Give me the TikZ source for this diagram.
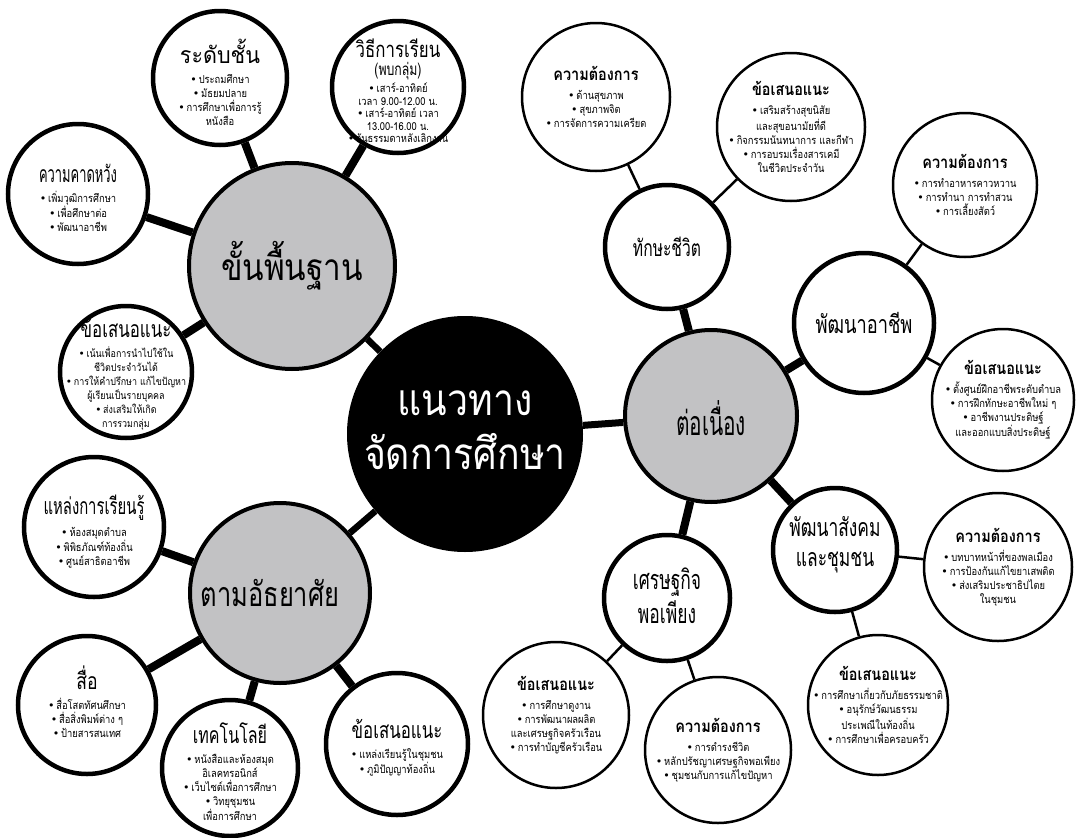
\documentclass[tikz,border=0pt]{standalone}
\usepackage{fontspec}
\usepackage{graphicx}
\newfontfamily\thf[Script=Thai,FakeStretch=0.85]{Loma}
\newfontfamily\bulf{DejaVu Sans}
\newcommand\bu{{\bulf •}\,}
\newcommand\hs[2]{\scalebox{#1}[1]{#2}}
\definecolor{bubgray}{RGB}{194,194,196}
\tikzset{
  leafthick/.style={circle,draw,line width=4.5pt,fill=white,inner sep=0pt},
  leafthin/.style={circle,draw,line width=2.5pt,fill=white,inner sep=0pt},
  midnode/.style={circle,draw,line width=4pt,fill=bubgray,inner sep=0pt},
  corenode/.style={circle,fill=black,inner sep=0pt},
  lk/.style={line width=8pt},
  lkthin/.style={line width=2.5pt},
  txt/.style={align=center,inner sep=0pt,font=\thf\fontsize{11}{14}\selectfont},
  big/.style={align=center,inner sep=0pt},
}
\newcommand\tl[2]{{\fontsize{23}{26}\selectfont\hs{#1}{#2}}\\[6pt]}
\newcommand\tb[1]{{\bfseries\fontsize{17}{21}\selectfont #1}\\[5pt]}
\begin{document}
\begin{tikzpicture}[x=1pt,y=-1pt]
\useasboundingbox (0,0) rectangle (1077,838);
% core and main branches
\node[corenode,minimum size=236pt] (core) at (465,434) {};
\node[midnode,minimum size=206pt] (basic) at (292,266) {};
\node[midnode,minimum size=172pt] (cont) at (711,416) {};
\node[midnode,minimum size=180pt] (info) at (280,593) {};
% left leaves
\node[leafthick,minimum size=134pt] (level) at (220,78) {};
\node[leafthick,minimum size=132pt] (method) at (398,87) {};
\node[leafthick,minimum size=140pt] (expect) at (78,194) {};
\node[leafthick,minimum size=132pt] (sugA) at (126,372) {};
\node[leafthick,minimum size=140pt] (source) at (94,527) {};
\node[leafthick,minimum size=138pt] (media) at (87,705) {};
\node[leafthick,minimum size=136pt] (tech) at (230,768) {};
\node[leafthick,minimum size=142pt] (sugB) at (397,744) {};
% right second level
\node[leafthick,minimum size=124pt] (life) at (667,247) {};
\node[leafthick,minimum size=140pt] (career) at (864,323) {};
\node[leafthick,minimum size=124pt] (social) at (835,550) {};
\node[leafthick,minimum size=126pt] (econ) at (667,598) {};
% right leaves
\node[leafthin,minimum size=148pt] (needL) at (596,97) {};
\node[leafthin,minimum size=148pt] (sugL) at (791,127) {};
\node[leafthin,minimum size=144pt] (needC) at (965,185) {};
\node[leafthin,minimum size=142pt] (sugC) at (1003,400) {};
\node[leafthin,minimum size=148pt] (needS) at (998,567) {};
\node[leafthin,minimum size=140pt] (sugS) at (878,705) {};
\node[leafthin,minimum size=146pt] (sugE) at (556,715) {};
\node[leafthin,minimum size=146pt] (needE) at (718,750) {};
% connectors
\draw[line width=6.5pt] (core) -- (basic);
\draw[line width=7pt] (core) -- (cont);
\draw[line width=6.5pt] (core) -- (info);
\draw[lk] (basic) -- (level);
\draw[lk] (basic) -- (method);
\draw[lk] (basic) -- (expect);
\draw[lk] (basic) -- (sugA);
\draw[lk] (info) -- (source);
\draw[lk] (info) -- (media);
\draw[lk] (info) -- (tech);
\draw[lk] (info) -- (sugB);
\draw[lk] (cont) -- (life);
\draw[lk] (cont) -- (career);
\draw[lk] (cont) -- (social);
\draw[lk] (cont) -- (econ);
\draw[lkthin] (life) -- (needL);
\draw[lkthin] (life) -- (sugL);
\draw[lkthin] (career) -- (needC);
\draw[lkthin] (career) -- (sugC);
\draw[lkthin] (social) -- (needS);
\draw[lkthin] (social) -- (sugS);
\draw[lkthin] (econ) -- (sugE);
\draw[lkthin] (econ) -- (needE);
% texts
\node[big,text=white,font=\thf\fontsize{44}{54}\selectfont] (core-t) at (465,430) {แนวทาง\\จัดการศึกษา};
\node[big,font=\thf\fontsize{37}{40}\selectfont] (basic-t) at (292,266) {ขั้นพื้นฐาน};
\node[big,font=\thf\fontsize{34}{40}\selectfont] (cont-t) at (711,418) {\hs{0.72}{ต่อเนื่อง}};
\node[big,font=\thf\fontsize{34}{40}\selectfont] (info-t) at (270,593) {\hs{0.88}{ตามอัธยาศัย}};
\node[big,font=\thf\fontsize{23}{26}\selectfont] (life-t) at (667,247) {\hs{0.8}{ทักษะชีวิต}};
\node[big,font=\thf\fontsize{25}{28}\selectfont] (career-t) at (864,323) {\hs{0.86}{พัฒนาอาชีพ}};
\node[big,font=\thf\fontsize{25}{27}\selectfont] (social-t) at (835,545) {\hs{0.82}{พัฒนาสังคม}\\[3pt]\hs{0.82}{และชุมชน}};
\node[big,font=\thf\fontsize{27}{28}\selectfont] (econ-t) at (667,596) {\hs{0.76}{เศรษฐกิจ}\\[3pt]\hs{0.76}{พอเพียง}};
\node[txt] (level-t) at (220,82) {\tl{1.1}{ระดับชั้น}\bu ประถมศึกษา\\\bu มัธยมปลาย\\\bu การศึกษาเพื่อการรู้\\หนังสือ};
\node[txt,font=\thf\fontsize{11}{12.5}\selectfont] (method-t) at (398,91) {{\fontsize{22}{24}\selectfont\hs{0.9}{วิธีการเรียน}}\\[4pt]{\fontsize{17}{18}\selectfont\hs{0.85}{(พบกลุ่ม)}}\\[2pt]\bu เสาร์-อาทิตย์\\เวลา 9.00-12.00 น.\\\bu เสาร์-อาทิตย์ เวลา\\13.00-16.00 น.\\\bu วันธรรมดาหลังเลิกงาน};
\node[txt] (expect-t) at (78,198) {\tl{0.66}{ความคาดหวัง}\bu เพิ่มวุฒิการศึกษา\\\bu เพื่อศึกษาต่อ\\\bu พัฒนาอาชีพ};
\node[txt,font=\thf\fontsize{10.5}{14}\selectfont] (sugA-t) at (126,374) {\tl{0.86}{ข้อเสนอแนะ}\bu เน้นเพื่อการนำไปใช้ใน\\ชีวิตประจำวันได้\\\bu การให้คำปรึกษา แก้ไขปัญหา\\ผู้เรียนเป็นรายบุคคล\\\bu ส่งเสริมให้เกิด\\การรวมกลุ่ม};
\node[txt] (source-t) at (94,532) {\tl{0.76}{แหล่งการเรียนรู้}\bu ห้องสมุดตำบล\\\bu พิพิธภัณฑ์ท้องถิ่น\\\bu ศูนย์สาธิตอาชีพ};
\node[txt] (media-t) at (87,702) {\tl{0.9}{สื่อ}\bu สื่อโสตทัศนศึกษา\\\bu สื่อสิ่งพิมพ์ต่าง ๆ\\\bu ป้ายสารสนเทศ};
\node[txt] (tech-t) at (230,772) {\tl{0.82}{เทคโนโลยี}\bu หนังสือและห้องสมุด\\อิเลคทรอนิกส์\\\bu เว็บไซต์เพื่อการศึกษา\\\bu วิทยุชุมชน\\เพื่อการศึกษา};
\node[txt] (sugB-t) at (397,748) {\tl{0.86}{ข้อเสนอแนะ}\bu แหล่งเรียนรู้ในชุมชน\\\bu ภูมิปัญญาท้องถิ่น};
\node[txt] (needL-t) at (needL) {\tb{ความต้องการ}\bu ด้านสุขภาพ\\\bu สุขภาพจิต\\\bu การจัดการความเครียด};
\node[txt] (sugL-t) at (sugL) {\tb{ข้อเสนอแนะ}\bu เสริมสร้างสุขนิสัย\\และสุขอนามัยที่ดี\\\bu กิจกรรมนันทนาการ และกีฬา\\\bu การอบรมเรื่องสารเคมี\\ในชีวิตประจำวัน};
\node[txt] (needC-t) at (needC) {\tb{ความต้องการ}\bu การทำอาหารคาวหวาน\\\bu การทำนา การทำสวน\\\bu การเลี้ยงสัตว์};
\node[txt] (sugC-t) at (sugC) {\tb{ข้อเสนอแนะ}\bu ตั้งศูนย์ฝึกอาชีพระดับตำบล\\\bu การฝึกทักษะอาชีพใหม่ ๆ\\\bu อาชีพงานประดิษฐ์\\และออกแบบสิ่งประดิษฐ์};
\node[txt] (needS-t) at (needS) {\tb{ความต้องการ}\bu บทบาทหน้าที่ของพลเมือง\\\bu การป้องกันแก้ไขยาเสพติด\\\bu ส่งเสริมประชาธิปไตย\\ในชุมชน};
\node[txt] (sugS-t) at (sugS) {\tb{ข้อเสนอแนะ}\bu การศึกษาเกี่ยวกับภัยธรรมชาติ\\\bu อนุรักษ์วัฒนธรรม\\ประเพณีในท้องถิ่น\\\bu การศึกษาเพื่อครอบครัว};
\node[txt] (sugE-t) at (sugE) {\tb{ข้อเสนอแนะ}\bu การศึกษาดูงาน\\\bu การพัฒนาผลผลิต\\และเศรษฐกิจครัวเรือน\\\bu การทำบัญชีครัวเรือน};
\node[txt] (needE-t) at (needE) {\tb{ความต้องการ}\bu การดำรงชีวิต\\\bu หลักปรัชญาเศรษฐกิจพอเพียง\\\bu ชุมชนกับการแก้ไขปัญหา};
\end{tikzpicture}
\end{document}
